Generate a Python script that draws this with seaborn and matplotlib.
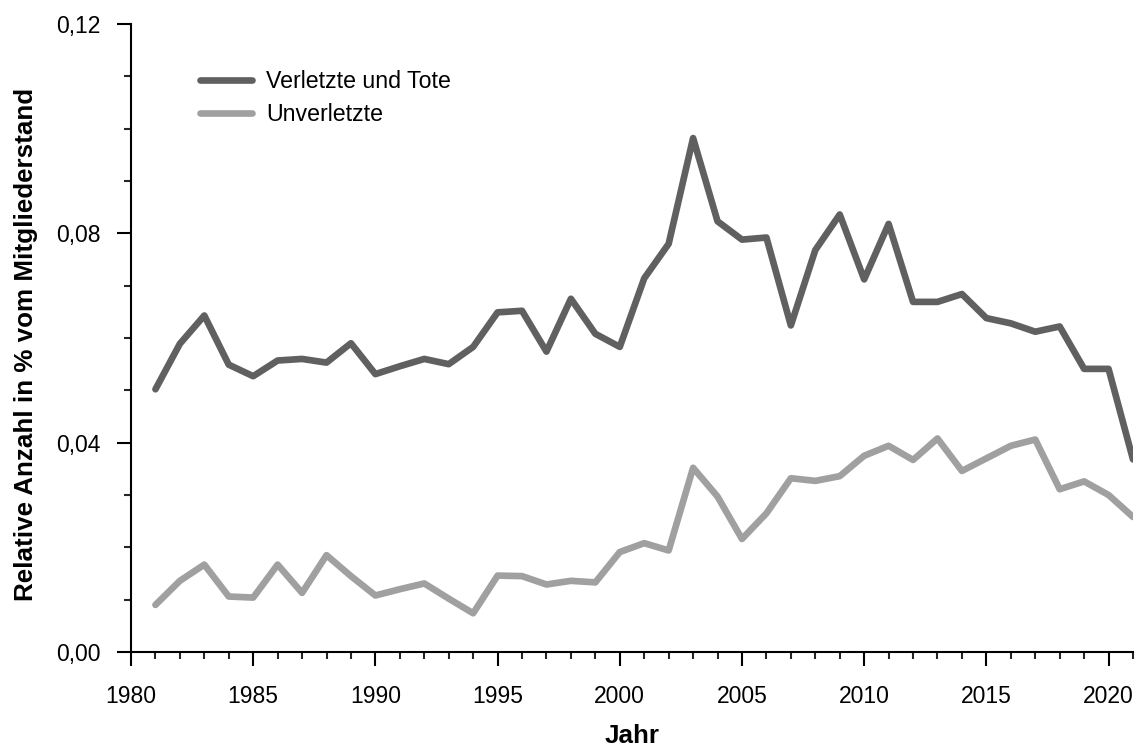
import numpy as np
import pandas as pd
import matplotlib
matplotlib.use("Agg")
import matplotlib.pyplot as plt
from matplotlib.ticker import MultipleLocator, FuncFormatter
import seaborn as sns

# data
jahre = list(range(1981, 2022))
verletzte_tote = [0.0502, 0.0589, 0.0643, 0.0549, 0.0527, 0.0557, 0.0560, 0.0553,
                  0.0590, 0.0531, 0.0546, 0.0560, 0.0550, 0.0583, 0.0649, 0.0652,
                  0.0574, 0.0675, 0.0608, 0.0583, 0.0714, 0.0780, 0.0982, 0.0823,
                  0.0788, 0.0792, 0.0624, 0.0768, 0.0836, 0.0712, 0.0818,
                  0.0669, 0.0669, 0.0684, 0.0638, 0.0628, 0.0612, 0.0622, 0.0541,
                  0.0541, 0.0368]
unverletzte = [0.0090, 0.0136, 0.0167, 0.0106, 0.0104, 0.0167, 0.0113, 0.0185,
               0.0145, 0.0108, 0.0120, 0.0131, 0.0102, 0.0074, 0.0146, 0.0145,
               0.0129, 0.0136, 0.0133, 0.0191, 0.0208, 0.0194, 0.0352, 0.0297,
               0.0216, 0.0265, 0.0332, 0.0327, 0.0336, 0.0375, 0.0394,
               0.0367, 0.0408, 0.0346, 0.0370, 0.0394, 0.0406, 0.0311, 0.0326,
               0.0300, 0.0258]
serien = ["Verletzte und Tote", "Unverletzte"]
farben = ["#606060", "#a0a0a0"]

df = pd.DataFrame({
    "Jahr": jahre * 2,
    "Wert": verletzte_tote + unverletzte,
    "Serie": [serien[0]] * len(jahre) + [serien[1]] * len(jahre),
})

sns.set_theme(style="ticks")
plt.rcParams["font.family"] = ["Liberation Sans", "DejaVu Sans"]
plt.rcParams["text.color"] = "black"
plt.rcParams["axes.labelcolor"] = "black"

fig = plt.figure(figsize=(11.41, 7.46), dpi=100)
ax = fig.add_axes([131 / 1141, 1 - 652 / 746, (1133 - 131) / 1141, (652 - 24) / 746])

sns.lineplot(data=df, x="Jahr", y="Wert", hue="Serie", hue_order=serien,
             palette=farben, linewidth=4.8, ax=ax, legend=False)

ax.set_xlim(1980, 2021)
ax.set_ylim(0, 0.12)
ax.xaxis.set_major_locator(MultipleLocator(5))
ax.xaxis.set_minor_locator(MultipleLocator(1))
ax.yaxis.set_major_locator(MultipleLocator(0.04))
ax.yaxis.set_minor_locator(MultipleLocator(0.01))
ax.yaxis.set_major_formatter(FuncFormatter(lambda v, p: f"{v:.2f}".replace(".", ",")))
ax.xaxis.set_major_formatter(FuncFormatter(lambda v, p: f"{int(v)}" if v <= 2020 else ""))

ax.tick_params(which="major", direction="out", length=10, width=1.5, labelsize=16.5,
               colors="black")
ax.tick_params(which="minor", direction="out", length=5, width=1.5)
ax.tick_params(axis="y", which="major", pad=12)
ax.tick_params(axis="x", which="major", pad=14)
for s in ["left", "bottom"]:
    ax.spines[s].set_linewidth(1.5)
    ax.spines[s].set_color("black")
sns.despine(ax=ax)

ax.set_xlabel("Jahr", fontsize=18.7, fontweight="bold")
ax.set_ylabel("Relative Anzahl in % vom Mitgliederstand", fontsize=18.7,
              fontweight="bold")
ax.xaxis.set_label_coords(0.5, (652 - 724) / 628)
ax.yaxis.set_label_coords((38 - 131) / 1002, 0.49)

handles = [plt.Line2D([], [], color=c, linewidth=4.8) for c in farben]
fig.legend(handles, serien, loc="upper left", bbox_to_anchor=(200 / 1141, 1 - 70 / 746),
           frameon=False, fontsize=16.7, handlelength=2.24, handletextpad=0.6,
           labelspacing=0.43, borderpad=0, borderaxespad=0)

fig.savefig("out.png", dpi=100)
